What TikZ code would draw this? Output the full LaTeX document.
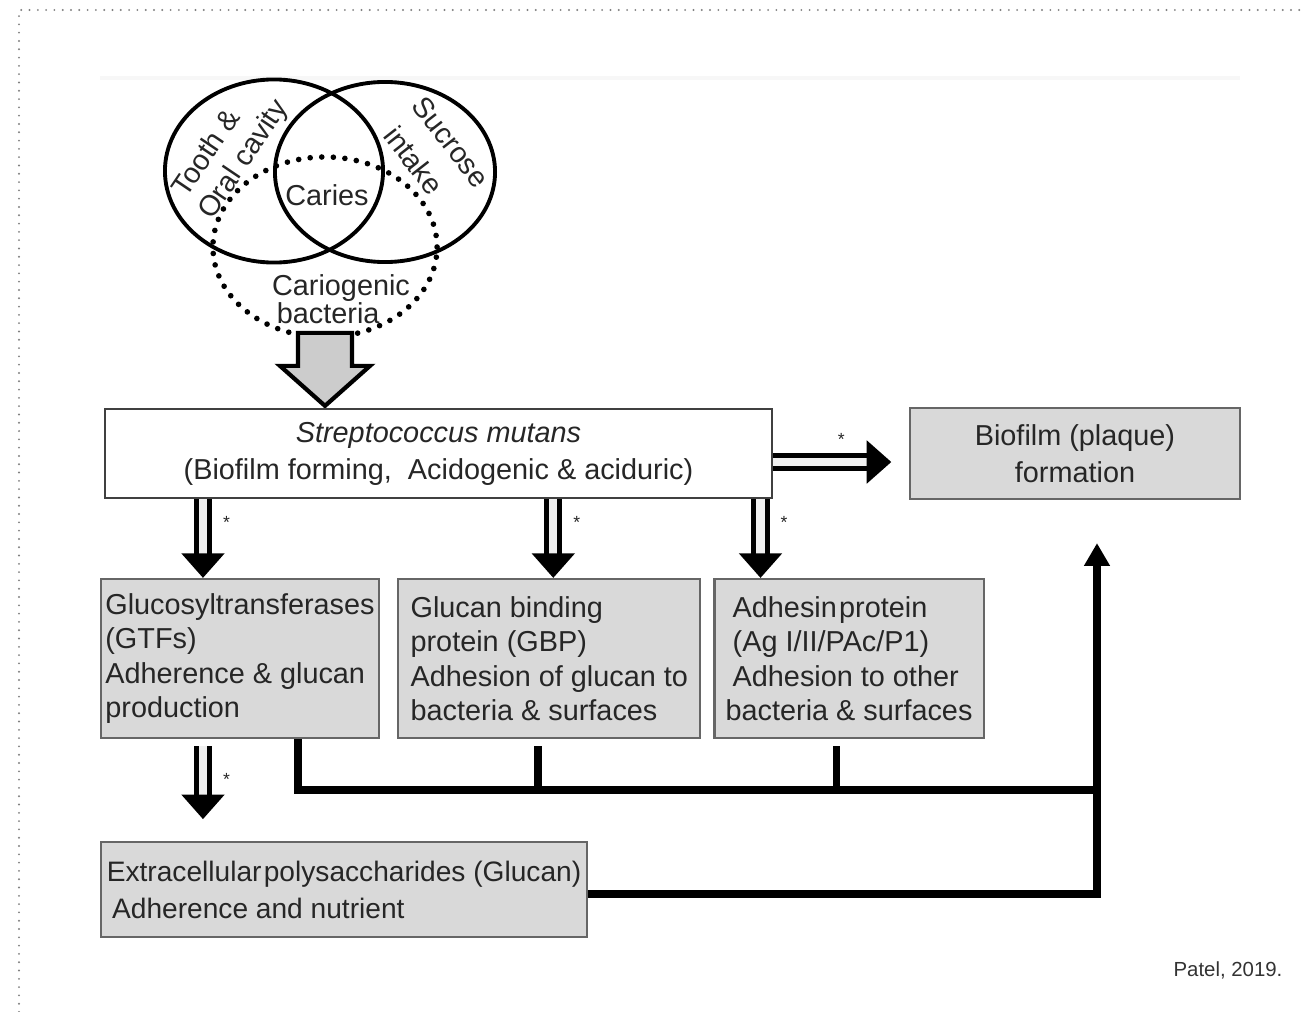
\documentclass[tikz,border=0pt]{standalone}
\usepackage{fontspec}
\setmainfont{Liberation Sans}
\usetikzlibrary{shapes,arrows.meta,positioning,calc}

\begin{document}
\begin{tikzpicture}[x=0.01cm, y=-0.01cm, text=black!85,
    font=\fontsize{8.2}{9.8}\selectfont,
    box/.style={draw=black!60, line width=0.6pt, fill=black!15, rectangle, inner sep=0pt, align=left},
    ring/.style={draw, line width=1.1pt, ellipse, inner sep=0pt},
    hollow/.style={draw=black, double=black!6, double distance=2.3pt, line width=1.45pt, -{Triangle[length=7pt,width=12pt]}},
    bus/.style={line width=2.2pt, line join=miter},
    asterisk/.style={inner sep=0pt, font=\fontsize{5}{5}\selectfont}]
\useasboundingbox (0,0) rectangle (1302,1012);
\draw[gray, line width=0.6pt, dash pattern=on 0pt off 2.36pt, line cap=round] (19,1012) -- (19,10) -- (1302,10);
\draw[black!3, line width=1pt] (100,78) -- (1240,78);

% venn part
\node[ring, minimum width=2.18cm, minimum height=1.83cm] (tooth) at (274,171) {};
\node[ring, minimum width=2.2cm, minimum height=1.8cm] (sucrose) at (385,172) {};
\node[ring, line width=1.6pt, dash pattern=on 0pt off 3.3pt, line cap=round,
      minimum width=2.24cm, minimum height=1.8cm] (bact) at (325,247) {};
\node[rotate=56] (toothlbl) at (205,152) {Tooth \&};
\node[rotate=56] (orallbl) at (244,160) {Oral cavity};
\node[rotate=-52] (sucrlbl) at (451,142) {Sucrose};
\node[rotate=-52] (intklbl) at (414,160) {intake};
\node (caries) at (327,195) {Caries};
\node[align=left, font=\fontsize{8.2}{8}\selectfont] (cario) at (341,299) {Cariogenic\\\,bacteria};
\draw[line width=1.2pt, fill=black!20, line join=miter] (bact.south) ++(-27,-7) -- ++(0,33) -- ++(-18,0)
    -- ++(45,40) -- ++(45,-40) -- ++(-18,0) -- ++(0,-33) -- cycle;

% boxes
\node[box, fill=white, draw=black!75, align=center, font=\fontsize{8.2}{10.5}\selectfont,
      minimum width=6.67cm, minimum height=0.89cm] (smut) at (438.5,453.5)
      {\textit{Streptococcus mutans}\\(Biofilm forming,\ \ Acidogenic \& aciduric)};
\node[box, align=center, font=\fontsize{8.2}{10.5}\selectfont, minimum width=3.29cm, minimum height=0.91cm,
      right=1.36cm of smut] (plaque) {Biofilm (plaque)\\formation};
\node[box, minimum width=2.78cm, minimum height=1.59cm] (gtf) at (240,658.5)
      {Glucosyltransferases\\(GTFs)\\Adherence \& glucan\\production};
\node[box, minimum width=3.02cm, minimum height=1.59cm, right=0.17cm of gtf] (gbp)
      {Glucan binding\\protein (GBP)\\Adhesion of glucan to\\bacteria \& surfaces};
\node[box, minimum width=2.69cm, minimum height=1.59cm, right=0.12cm of gbp] (adh)
      {\hspace*{2pt}Adhesin\hspace{0.08em}protein\\\hspace*{2pt}(Ag I/II/PAc/P1)\\\hspace*{2pt}Adhesion to other\\bacteria \& surfaces};
\node[box, font=\fontsize{8}{10.5}\selectfont, minimum width=4.86cm, minimum height=0.95cm,
      below=1.02cm of gtf.south west, anchor=north west] (eps)
      {Extracellular\hspace{0.08em}polysaccharides (Glucan)\\\hspace*{1.5pt}Adherence and nutrient};

% hollow arrows
\draw[hollow] ([xshift=-0.37cm]gtf.north |- smut.south) -- node[asterisk, pos=0.3, right=5pt] {*} ([xshift=-0.37cm]gtf.north);
\draw[hollow] ([xshift=0.04cm]gbp.north |- smut.south) -- node[asterisk, pos=0.3, right=5pt] {*} ([xshift=0.04cm]gbp.north);
\draw[hollow] ([xshift=-0.885cm]adh.north |- smut.south) -- node[asterisk, pos=0.3, right=5pt] {*} ([xshift=-0.885cm]adh.north);
\draw[hollow, shorten >=0.18cm] ([yshift=-0.085cm]smut.east) -- node[asterisk, pos=0.5, above=4pt] {*} ([yshift=-0.085cm]smut.east -| plaque.west);
\draw[hollow, shorten <=0.07cm, shorten >=0.22cm] ([xshift=-0.37cm]gtf.south) -- node[asterisk, pos=0.4, right=5pt] {*} ([xshift=-0.37cm]gtf.south |- eps.north);

% thick connectors
\coordinate (hub) at (1097,790);
\draw[bus] ([xshift=0.58cm]gtf.south) |- (hub);
\draw[bus, shorten <=0.07cm] ([xshift=-0.11cm]gbp.south) -- ([xshift=-0.11cm]gbp.south |- hub);
\draw[bus, shorten <=0.07cm] ([xshift=-0.125cm]adh.south) -- ([xshift=-0.125cm]adh.south |- hub);
\draw[bus, -{Triangle[length=6.5pt,width=7pt]}, shorten >=0.43cm] ([yshift=-0.045cm]eps.east) -| (hub |- plaque.south);

\node[font=\fontsize{5.8}{7}\selectfont, text=black!80] (cite) at (1228,970) {Patel, 2019.};
\end{tikzpicture}
\end{document}
